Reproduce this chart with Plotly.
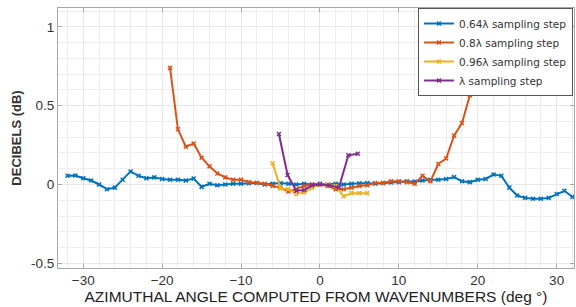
import plotly.graph_objects as go

# 0.64λ sampling step
x_064 = list(range(-32, 33))
y_064 = [0.055, 0.057, 0.04, 0.025, 0.0, -0.03, -0.02, 0.03, 0.083, 0.055,
         0.04, 0.045, 0.035, 0.03, 0.03, 0.025, 0.038, -0.015, 0.005, -0.005,
         0.0, 0.005, 0.005, 0.008, 0.01, 0.0, 0.005, 0.01, 0.005, 0.0,
         0.005, 0.0, 0.005, 0.0, 0.005, 0.0, 0.005, 0.008, 0.01, 0.005,
         0.01, 0.012, 0.015, 0.02, 0.018, 0.025, 0.03, 0.03, 0.035, 0.047,
         0.02, 0.015, 0.03, 0.035, 0.063, 0.055, -0.02, -0.07, -0.085, -0.09,
         -0.09, -0.085, -0.06, -0.04, -0.08]

# 0.8λ sampling step
x_08 = list(range(-19, 20))
y_08 = [0.74, 0.35, 0.24, 0.26, 0.17, 0.115, 0.07, 0.045, 0.03, 0.03,
        0.015, 0.01, 0.005, -0.01, -0.02, -0.045, -0.03, -0.01, 0.0, 0.0,
        -0.01, -0.03, -0.03, -0.02, -0.01, -0.005, 0.01, 0.01, 0.02, 0.02,
        0.015, 0.005, 0.055, 0.02, 0.13, 0.165, 0.31, 0.39, 0.565]

# 0.96λ sampling step
x_096 = list(range(-6, 7))
y_096 = [0.135, -0.025, -0.03, -0.06, -0.05, -0.02, 0.0, 0.0, -0.01,
         -0.075, -0.055, -0.055, -0.055]

# λ sampling step
x_1 = [-5.2, -4.1, -3.0, -2.0, -1.0, 0.0, 1.2, 2.4, 3.6, 4.8]
y_1 = [0.32, 0.06, -0.04, -0.035, -0.005, 0.0, -0.005, -0.02, 0.185, 0.195]

series = [
    ("0.64λ sampling step", x_064, y_064, "#0072BD"),
    ("0.8λ sampling step", x_08, y_08, "#D95319"),
    ("0.96λ sampling step", x_096, y_096, "#EDB120"),
    ("λ sampling step", x_1, y_1, "#7E2F8E"),
]

fig = go.Figure()
for name, xs, ys, col in series:
    fig.add_trace(go.Scatter(
        x=xs, y=ys, name=name, mode="lines+markers",
        line=dict(color=col, width=2),
        marker=dict(symbol="x-thin", size=4, color=col, line=dict(color=col, width=1.5)),
    ))

axis_common = dict(
    showline=True, linecolor="#a8a8a8", linewidth=1, mirror="ticks",
    ticks="inside", ticklen=4, tickcolor="#a8a8a8",
    showgrid=True, gridcolor="#e6e6e6", gridwidth=1, zeroline=False,
    automargin=False,
    tickfont=dict(family="Liberation Sans, Arial", size=13.5, color="#333333"),
)

fig.update_xaxes(
    range=[-33.2, 32.2], tickvals=[-30, -20, -10, 0, 10, 20, 30],
    minor=dict(dtick=2, showgrid=True, gridcolor="#ededed", ticks=""),
    title=dict(text="AZIMUTHAL ANGLE COMPUTED FROM WAVENUMBERS (deg °)",
               font=dict(family="Liberation Sans, Arial", size=15.5, color="#222222"),
               standoff=2),
    **axis_common,
)
fig.update_yaxes(
    range=[-0.53, 1.12], tickvals=[-0.5, 0, 0.5, 1], ticktext=["-0.5", "0", "0.5", "1"],
    minor=dict(dtick=0.1, showgrid=True, gridcolor="#ededed", ticks=""),
    title=dict(text="<b>DECIBELS (dB)</b>",
               font=dict(family="Liberation Sans, Arial", size=13, color="#333333"),
               standoff=6),
    **axis_common,
)

fig.update_layout(
    width=576, height=307,
    margin=dict(l=58, r=2, t=8, b=39),
    plot_bgcolor="white", paper_bgcolor="white",
    showlegend=True,
    legend=dict(
        x=0.998, y=1.0, xanchor="right", yanchor="top",
        bgcolor="white", bordercolor="#555555", borderwidth=1,
        font=dict(family="DejaVu Sans", size=10.5, color="#333333"),
        tracegroupgap=0, itemwidth=30,
    ),
)

fig.write_html("out.html", config={"displayModeBar": False},
               post_script="document.body.style.margin='0';")
